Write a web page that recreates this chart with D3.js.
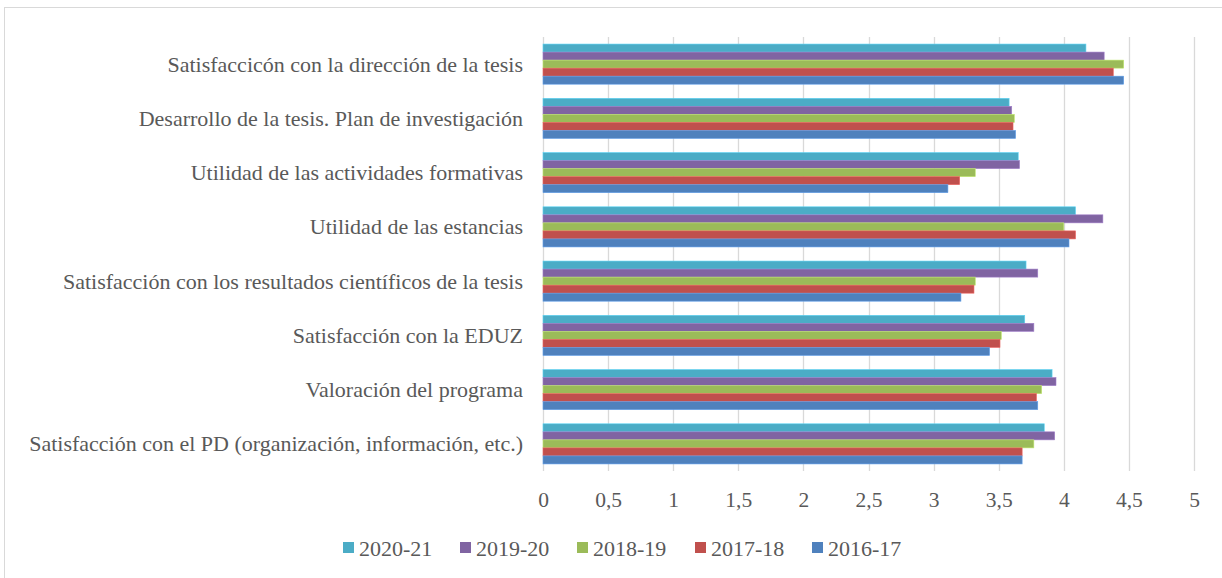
<!DOCTYPE html>
<html>
<head>
<meta charset="utf-8">
<script src="https://cdn.jsdelivr.net/npm/d3@7"></script>
<style>
  body { margin: 0; background: #fff; }
  text { font-family: "Liberation Serif", "DejaVu Serif", serif; fill: #595959; }
</style>
</head>
<body>
<svg id="chart" width="1222" height="578"></svg>
<script>
// categorias (de arriba a abajo)
const categories = [
    "Satisfaccicón con la dirección de la tesis",
    "Desarrollo de la tesis. Plan de investigación",
    "Utilidad de las actividades formativas",
    "Utilidad de las estancias",
    "Satisfacción con los resultados científicos de la tesis",
    "Satisfacción con la EDUZ",
    "Valoración del programa",
    "Satisfacción con el PD (organización, información, etc.)"
];

const seriesNames = ["2020-21", "2019-20", "2018-19", "2017-18", "2016-17"];
const seriesColors = ["#4bacc6", "#8064a2", "#9bbb59", "#c0504d", "#4f81bd"];

const v2020 = [4.17, 3.58, 3.65, 4.09, 3.71, 3.70, 3.91, 3.85];
const v2019 = [4.31, 3.60, 3.66, 4.30, 3.80, 3.77, 3.94, 3.93];
const v2018 = [4.46, 3.62, 3.32, 4.00, 3.32, 3.52, 3.83, 3.77];
const v2017 = [4.38, 3.61, 3.20, 4.09, 3.31, 3.51, 3.79, 3.68];
const v2016 = [4.46, 3.63, 3.11, 4.04, 3.21, 3.43, 3.80, 3.68];
const seriesValues = [v2020, v2019, v2018, v2017, v2016];

const tickValues = [0, 0.5, 1, 1.5, 2, 2.5, 3, 3.5, 4, 4.5, 5];

let svg = d3.select("#chart");

// marco exterior
svg.append("rect")
    .attr("x", 4.5)
    .attr("y", 7.5)
    .attr("width", 1240)
    .attr("height", 600)
    .attr("fill", "white")
    .attr("stroke", "#d9d9d9");

let plotLeft = 543, plotRight = 1194, plotTop = 37, plotBottom = 471;

let x = d3.scaleLinear().domain([0, 5]).range([plotLeft, plotRight]);
let y = d3.scaleBand().domain(categories).range([plotTop, plotBottom]).paddingInner(0.26).paddingOuter(0.13);
let ySub = d3.scaleBand().domain(seriesNames).range([0, y.bandwidth()]);

// gridlines
svg.append("g")
    .selectAll("line")
    .data(tickValues)
    .join("line")
    .attr("x1", d => Math.round(x(d)) + 0.5)
    .attr("x2", d => Math.round(x(d)) + 0.5)
    .attr("y1", plotTop)
    .attr("y2", plotBottom)
    .attr("stroke", "#d9d9d9")
    .attr("stroke-width", 1.3);

// barras
let groups = svg.append("g")
    .selectAll("g")
    .data(categories)
    .join("g")
    .attr("transform", d => "translate(0," + y(d) + ")");

groups.selectAll("rect")
    .data((c, i) => seriesNames.map((s, j) => ({s: s, v: seriesValues[j][i], color: seriesColors[j]})))
    .join("rect")
    .attr("x", x(0))
    .attr("y", d => ySub(d.s))
    .attr("width", d => x(d.v) - x(0))
    .attr("height", ySub.bandwidth())
    .attr("fill", d => d.color)
    .attr("stroke", d => d3.color(d.color).brighter(0.6))
    .attr("stroke-width", 0.6);

// eje x
let xAxis = d3.axisBottom(x)
    .tickValues(tickValues)
    .tickSize(0)
    .tickFormat(d => String(d).replace(".", ","));
let gx = svg.append("g")
    .attr("transform", "translate(0," + plotBottom + ")")
    .call(xAxis);
gx.select(".domain").remove();
gx.selectAll("text")
    .attr("dy", 0)
    .attr("y", 29)
    .attr("dominant-baseline", "central")
    .attr("font-size", 21.5)
    .attr("font-family", null)
    .attr("fill", "#595959");

// etiquetas de categorias
svg.append("g")
    .selectAll("text")
    .data(categories)
    .join("text")
    .attr("x", 523)
    .attr("y", d => y(d) + y.bandwidth() / 2)
    .attr("text-anchor", "end")
    .attr("dominant-baseline", "central")
    .attr("font-size", 22)
    .text(d => d);

// leyenda
let legendX = [343, 460, 577, 695, 812];
let legend = svg.append("g")
    .selectAll("g")
    .data(seriesNames)
    .join("g")
    .attr("transform", (d, i) => "translate(" + legendX[i] + ",548)");
legend.append("rect")
    .attr("x", 0)
    .attr("y", -6)
    .attr("width", 11)
    .attr("height", 11)
    .attr("fill", (d, i) => seriesColors[i]);
legend.append("text")
    .attr("x", 16)
    .attr("y", 0)
    .attr("dominant-baseline", "central")
    .attr("font-size", 22)
    .text(d => d);
</script>
</body>
</html>
